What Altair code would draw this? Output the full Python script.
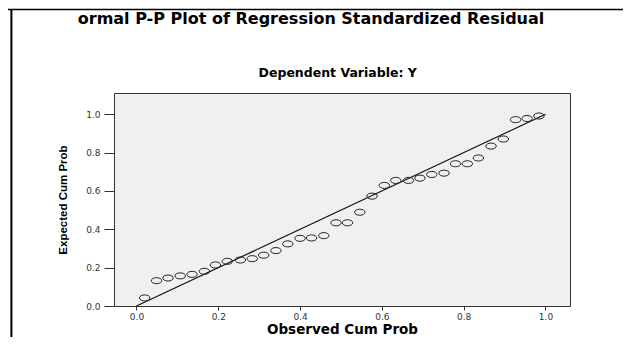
import altair as alt
import pandas as pd

# Observed cumulative probability (x) and expected cumulative probability (y)
observed = [0.020, 0.049, 0.077, 0.107, 0.136, 0.166, 0.193, 0.222, 0.254, 0.283,
            0.311, 0.341, 0.370, 0.400, 0.428, 0.458, 0.488, 0.516, 0.546, 0.576,
            0.606, 0.634, 0.665, 0.693, 0.722, 0.752, 0.780, 0.809, 0.836,
            0.867, 0.897, 0.927, 0.955, 0.984]
expected = [0.042, 0.132, 0.146, 0.157, 0.165, 0.181, 0.214, 0.233, 0.240, 0.247,
            0.265, 0.289, 0.324, 0.353, 0.355, 0.367, 0.434, 0.434, 0.489, 0.573,
            0.629, 0.655, 0.655, 0.667, 0.686, 0.693, 0.742, 0.742, 0.772,
            0.834, 0.871, 0.972, 0.978, 0.991]
diag_x = [0.0, 1.0]
diag_y = [0.0, 1.0]
tick_values = [0.0, 0.2, 0.4, 0.6, 0.8, 1.0]

main_title = "ormal P-P Plot of Regression Standardized Residual"
sub_title = "Dependent Variable: Y"
x_title = "Observed Cum Prob"
y_title = "Expected Cum Prob"

pts = pd.DataFrame({"obs": observed, "exp": expected})
diag = pd.DataFrame({"obs": diag_x, "exp": diag_y})

W, H = 456, 213
xscale = alt.Scale(domain=[-0.055, 1.06], nice=False, zero=False)
yscale = alt.Scale(domain=[0.0, 1.111], nice=False, zero=False)

xaxis = alt.Axis(values=tick_values, format=".1f", title=x_title, domain=False, grid=False,
                 tickSize=4, tickColor="#333", labelPadding=2, labelFont="DejaVu Sans",
                 labelFontSize=9, labelColor="#333", titleFont="DejaVu Sans",
                 titleFontSize=13.5, titleFontWeight="bold", titleColor="#000", titlePadding=1)
yaxis = alt.Axis(values=tick_values, format=".1f", title=y_title, domain=False, grid=False,
                 tickSize=10, tickColor="#333", labelPadding=4, labelFont="DejaVu Sans",
                 labelFontSize=9, labelColor="#333", titleFont="Liberation Sans",
                 titleFontSize=11.5, titleFontWeight="bold", titleColor="#000", titlePadding=17)

ellipse = "M-1,0A1,0.58,0,1,1,1,0A1,0.58,0,1,1,-1,0Z"

points = alt.Chart(pts).mark_point(shape=ellipse, filled=False, size=110, color="#222",
                                   strokeWidth=1, opacity=1).encode(
    x=alt.X("obs:Q", scale=xscale, axis=xaxis),
    y=alt.Y("exp:Q", scale=yscale, axis=yaxis),
)

line = alt.Chart(diag).mark_line(color="#111", strokeWidth=1.2).encode(
    x=alt.X("obs:Q", scale=xscale),
    y=alt.Y("exp:Q", scale=yscale),
)

one = pd.DataFrame({"a": [0]})
top_border = alt.Chart(one).mark_rule(color="#000", strokeWidth=1.5).encode(
    x=alt.value(-106), x2=alt.value(509), y=alt.value(-83.4))
left_border = alt.Chart(one).mark_rule(color="#000", strokeWidth=2).encode(
    x=alt.value(-102.6), y=alt.value(-83.4), y2=alt.value(245))

t1 = alt.Chart(pd.DataFrame({"t": [main_title]})).mark_text(
    font="DejaVu Sans", fontSize=16, fontWeight="bold", color="#000",
    align="center", baseline="middle").encode(
    text="t:N", x=alt.value(197), y=alt.value(-73.7))
t2 = alt.Chart(pd.DataFrame({"t": [sub_title]})).mark_text(
    font="DejaVu Sans", fontSize=12.5, fontWeight="bold", color="#000",
    align="center", baseline="middle").encode(
    text="t:N", x=alt.value(223.7), y=alt.value(-19.7))

chart = alt.layer(line, points, top_border, left_border, t1, t2).properties(
    width=W, height=H,
    autosize=alt.AutoSizeParams(type="none"),
    padding={"left": 106, "top": 85, "right": 53, "bottom": 31},
    background="white",
).configure_view(fill="#f0f0f0", stroke="#333", strokeWidth=1)

chart.save("out.html", embed_options={"renderer": "svg", "actions": False})
